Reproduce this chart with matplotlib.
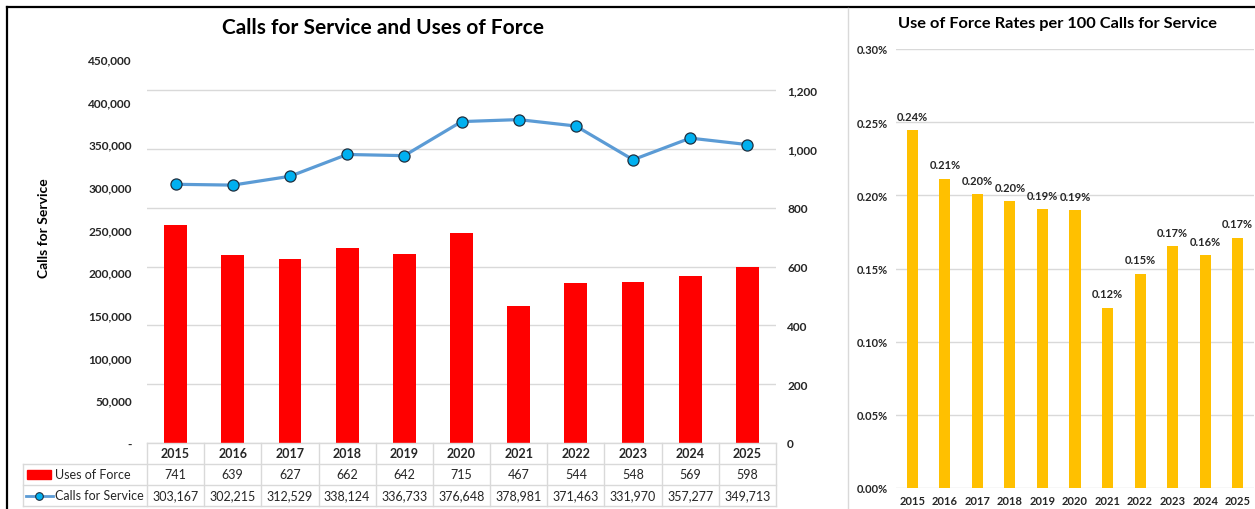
import matplotlib
matplotlib.use("Agg")
import matplotlib.pyplot as plt
from matplotlib.lines import Line2D
from matplotlib.patches import Rectangle
from matplotlib.ticker import FuncFormatter

plt.rcParams["font.family"] = ["Lato", "DejaVu Sans"]

years = ["2015", "2016", "2017", "2018", "2019", "2020", "2021", "2022", "2023", "2024", "2025"]
uses_of_force = [741, 639, 627, 662, 642, 715, 467, 544, 548, 569, 598]
calls_for_service = [303167, 302215, 312529, 338124, 336733, 376648, 378981, 371463, 331970, 357277, 349713]
# use of force per 100 calls, in percent
rates = [0.2444, 0.2114, 0.2006, 0.1958, 0.1907, 0.1898, 0.1232, 0.1464, 0.1651, 0.1593, 0.1710]

W, H = 1255, 510
GRID = "#D9D9D9"
TXT = "#262626"
RED = "#FF0000"
LINE_BLUE = "#5B9BD5"
MARK_BLUE = "#00B0F0"
GOLD = "#FFC000"

fig = plt.figure(figsize=(W / 100, H / 100), dpi=100)


def px_axes(x0, y0, x1, y1, **kw):
    return fig.add_axes([x0 / W, 1 - y1 / H, (x1 - x0) / W, (y1 - y0) / H], **kw)


x = list(range(len(years)))

# ---- left chart: calls (line, left axis) and uses of force (bars, right axis)
ax = px_axes(147, 60, 776, 444)
ax2 = ax.twinx()
ax.set_zorder(ax2.get_zorder() + 1)
ax.patch.set_visible(False)

ax2.bar(x, uses_of_force, 0.4, color=RED, zorder=2)
ax2.set_ylim(0, 1200 * 384 / 353)
ax2.set_yticks(range(0, 1201, 200))
ax2.yaxis.set_major_formatter(FuncFormatter(lambda v, p: f"{int(v):,}"))
ax2.grid(axis="y", color=GRID, lw=1, zorder=0)
ax2.set_axisbelow(True)

ax.plot(x, calls_for_service, color=LINE_BLUE, lw=2.3, marker="o", ms=8,
        mfc=MARK_BLUE, mec="#1F2F3F", mew=0.9, zorder=5)
ax.set_ylim(0, 450000)
ax.set_yticks(range(0, 450001, 50000))
ax.yaxis.set_major_formatter(FuncFormatter(lambda v, p: "-" if v == 0 else f"{int(v):,}"))
ax.set_xlim(-0.5, len(years) - 0.5)
ax.set_xticks([])
ax2.set_xticks([])

for a in (ax, ax2):
    for s in a.spines.values():
        s.set_visible(False)
    a.tick_params(axis="y", length=0, labelsize=8.6, labelcolor=TXT)
for lbl in ax.get_yticklabels() + ax2.get_yticklabels():
    lbl.set_fontweight("bold")
ax.tick_params(axis="y", pad=11)
ax2.tick_params(axis="y", pad=8)

ax.set_ylabel("Calls for Service", fontsize=10, fontweight="bold", color="black")
ax.yaxis.set_label_coords(-0.155, 0.5625)
fig.text(383 / W, 1 - 28 / H, "Calls for Service and Uses of Force", ha="center", va="center",
         fontsize=15, fontweight="bold", color="black")

# ---- data table under the left chart
tb = px_axes(23, 444, 776, 507)
left = -0.5 - (147 - 23) / 57.2
tb.set_xlim(left, len(years) - 0.5)
tb.set_ylim(3, 0)
tb.axis("off")


def u(px):
    return left + (px - 23) / 57.2


tb.plot([-0.5, len(years) - 0.5], [0, 0], color=GRID, lw=1, clip_on=False)
for r in (1, 2, 3):
    tb.plot([left, len(years) - 0.5], [r, r], color=GRID, lw=1, clip_on=False)
for k in range(len(years) + 1):
    tb.plot([k - 0.5, k - 0.5], [0, 3], color=GRID, lw=1, clip_on=False)
tb.plot([left, left], [1, 3], color=GRID, lw=1, clip_on=False)

for i, yr in enumerate(years):
    tb.text(i, 0.5, yr, ha="center", va="center", fontsize=9, fontweight="bold", color=TXT)
    tb.text(i, 1.5, f"{uses_of_force[i]:,}", ha="center", va="center", fontsize=9, color=TXT)
    tb.text(i, 2.5, f"{calls_for_service[i]:,}", ha="center", va="center", fontsize=9, color=TXT)

tb.add_patch(Rectangle((u(27), 1.29), u(51) - u(27), 0.42, color=RED, clip_on=False))
tb.add_line(Line2D([u(26), u(53)], [2.5, 2.5], color=LINE_BLUE, lw=2, clip_on=False))
tb.add_line(Line2D([u(39.5)], [2.5], marker="o", ms=5.5, mfc=MARK_BLUE, mec="#1F2F3F",
                   mew=0.8, clip_on=False))
tb.text(u(55), 1.5, "Uses of Force", ha="left", va="center", fontsize=9, color=TXT)
tb.text(u(55), 2.5, "Calls for Service", ha="left", va="center", fontsize=9, color=TXT)

# ---- right chart: rates per 100 calls
rx = px_axes(896, 50, 1254, 489)
rx.bar(x, rates, 0.34, color=GOLD, zorder=2)
rx.set_xlim(-0.5, len(years) - 0.5)
rx.set_ylim(0, 0.30)
rx.set_yticks([i * 0.05 for i in range(7)])
rx.yaxis.set_major_formatter(FuncFormatter(lambda v, p: f"{v:.2f}%"))
rx.set_xticks(x)
rx.set_xticklabels(years)
rx.grid(axis="y", color=GRID, lw=1, zorder=0)
rx.set_axisbelow(True)
for s in rx.spines.values():
    s.set_visible(False)
rx.tick_params(length=0, labelsize=8, labelcolor=TXT)
rx.tick_params(axis="y", pad=6)
rx.tick_params(axis="x", pad=5)
for lbl in rx.get_xticklabels() + rx.get_yticklabels():
    lbl.set_fontweight("bold")
for i, v in enumerate(rates):
    rx.annotate(f"{v:.2f}%", (i, v), xytext=(0, 6), textcoords="offset points",
                ha="center", va="bottom", fontsize=8, fontweight="bold", color=TXT)
fig.text(1057 / W, 1 - 24 / H, "Use of Force Rates per 100 Calls for Service", ha="center",
         va="center", fontsize=11.8, fontweight="bold", color="black")

# ---- frame lines
fig.add_artist(Line2D([7 / W, 1], [1 - 8 / H, 1 - 8 / H], color="black", lw=1.6))
fig.add_artist(Line2D([7 / W, 7 / W], [0, 1 - 8 / H], color="black", lw=1.6))
fig.add_artist(Line2D([848 / W, 848 / W], [0, 1 - 9 / H], color=GRID, lw=1))

fig.savefig("out.png", dpi=100)
